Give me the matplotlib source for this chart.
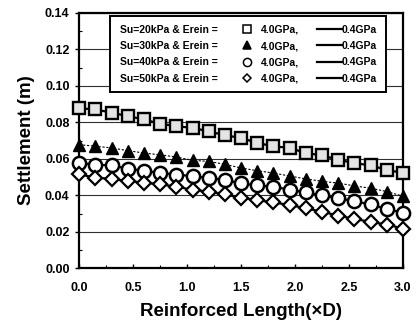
import matplotlib
matplotlib.use("Agg")
import matplotlib.pyplot as plt
from matplotlib.lines import Line2D
from matplotlib.legend_handler import HandlerBase
from matplotlib.ticker import MultipleLocator, FormatStrFormatter

plt.rcParams['font.family'] = ['Liberation Sans', 'DejaVu Sans']

# ---- data ----
length = [0.0, 0.15, 0.3, 0.45, 0.6, 0.75, 0.9, 1.05, 1.2, 1.35, 1.5,
          1.65, 1.8, 1.95, 2.1, 2.25, 2.4, 2.55, 2.7, 2.85, 3.0]

su20_40 = [0.0877, 0.0871, 0.0853, 0.0834, 0.0816, 0.0792, 0.0779, 0.0770, 0.0751, 0.0729, 0.0715,
           0.0687, 0.0669, 0.0660, 0.0632, 0.0619, 0.0595, 0.0577, 0.0564, 0.0540, 0.0522]
su30_40 = [0.0678, 0.0669, 0.0660, 0.0645, 0.0632, 0.0622, 0.0610, 0.0592, 0.0586, 0.0570, 0.0550,
           0.0535, 0.0522, 0.0506, 0.0490, 0.0477, 0.0467, 0.0452, 0.0439, 0.0421, 0.0395]
su40_40 = [0.0577, 0.0568, 0.0564, 0.0546, 0.0535, 0.0523, 0.0514, 0.0505, 0.0495, 0.0485, 0.0465,
           0.0455, 0.0447, 0.0431, 0.0416, 0.0400, 0.0385, 0.0368, 0.0350, 0.0326, 0.0304]
su50_40 = [0.0515, 0.0497, 0.0490, 0.0478, 0.0470, 0.0460, 0.0448, 0.0430, 0.0420, 0.0405, 0.0387,
           0.0374, 0.0361, 0.0347, 0.0329, 0.0310, 0.0289, 0.0271, 0.0254, 0.0240, 0.0218]

# 0.4 GPa curves (coincide with the 4.0 GPa markers in the figure)
su20_04 = [0.0877, 0.0871, 0.0853, 0.0834, 0.0816, 0.0792, 0.0779, 0.0770, 0.0751, 0.0729, 0.0715,
           0.0687, 0.0669, 0.0660, 0.0632, 0.0619, 0.0595, 0.0577, 0.0564, 0.0540, 0.0522]
su30_04 = [0.0678, 0.0669, 0.0660, 0.0645, 0.0632, 0.0622, 0.0610, 0.0592, 0.0586, 0.0570, 0.0550,
           0.0535, 0.0522, 0.0506, 0.0490, 0.0477, 0.0467, 0.0452, 0.0439, 0.0421, 0.0395]
su40_04 = [0.0577, 0.0568, 0.0564, 0.0546, 0.0535, 0.0523, 0.0514, 0.0505, 0.0495, 0.0485, 0.0465,
           0.0455, 0.0447, 0.0431, 0.0416, 0.0400, 0.0385, 0.0368, 0.0350, 0.0326, 0.0304]
su50_04 = [0.0515, 0.0497, 0.0490, 0.0478, 0.0470, 0.0460, 0.0448, 0.0430, 0.0420, 0.0405, 0.0387,
           0.0374, 0.0361, 0.0347, 0.0329, 0.0310, 0.0289, 0.0271, 0.0254, 0.0240, 0.0218]

row_labels = ["Su=20kPa & Erein =", "Su=30kPa & Erein =",
              "Su=40kPa & Erein =", "Su=50kPa & Erein ="]
marker_label = "4.0GPa,"
line_label = "0.4GPa"
x_ticks = [0.0, 0.5, 1.0, 1.5, 2.0, 2.5, 3.0]
y_ticks = [0.00, 0.02, 0.04, 0.06, 0.08, 0.10, 0.12, 0.14]

# ---- figure ----
fig = plt.figure(figsize=(4.17, 3.23), dpi=100)
ax = fig.add_axes([0.190, 0.1693, 0.7764, 0.7907])

styles = [
    dict(marker='s', ms=8.5, mfc='#e4e4e4', mec='black', mew=1.7),
    dict(marker='^', ms=9, mfc='black', mec='black', mew=1.0),
    dict(marker='o', ms=9.5, mfc='white', mec='black', mew=1.8),
    dict(marker='D', ms=6.8, mfc='white', mec='black', mew=1.6),
]
legend_mfc = ['white', 'black', 'white', 'white']
line_styles = [
    dict(color='black', lw=1.6, ls='-'),
    dict(color='black', lw=0.8, ls=(0, (2, 1.5))),
    dict(color='black', lw=1.6, ls='-'),
    dict(color='black', lw=1.6, ls='-'),
]
series40 = [su20_40, su30_40, su40_40, su50_40]
series04 = [su20_04, su30_04, su40_04, su50_04]

marker_handles = []
line_handles = []
for s40, s04, st, lst, lmfc in zip(series40, series04, styles, line_styles, legend_mfc):
    ax.plot(length, s04, zorder=3, **lst)
    ax.plot(length, s40, ls='none', zorder=4, clip_on=False, **st)
    line_handles.append(Line2D([], [], color='black', lw=1.6))
    marker_handles.append(Line2D([], [], ls='none', marker=st['marker'],
                                 ms=st['ms'] * 0.62, mfc=lmfc, mec='black', mew=1.1))

ax.set_xlim(0, 3.0)
ax.set_ylim(0, 0.14)
ax.set_xticks(x_ticks)
ax.set_yticks(y_ticks)
ax.xaxis.set_major_formatter(FormatStrFormatter('%.1f'))
ax.yaxis.set_major_formatter(FormatStrFormatter('%.2f'))
ax.xaxis.set_minor_locator(MultipleLocator(0.25))
ax.yaxis.set_minor_locator(MultipleLocator(0.01))
ax.tick_params(axis='x', which='major', direction='in', length=3, width=1, pad=10,
               labelsize=9)
ax.tick_params(axis='x', which='minor', direction='in', length=2, width=0.8)
ax.tick_params(axis='y', which='major', direction='out', length=3, width=1, pad=4,
               labelsize=9)
ax.tick_params(axis='y', which='minor', direction='in', length=2, width=0.8)
for lbl in ax.get_xticklabels() + ax.get_yticklabels():
    lbl.set_fontweight('bold')

ax.grid(axis='y', which='major', color='#303030', lw=0.8)
ax.set_axisbelow(True)
for sp in ax.spines.values():
    sp.set_linewidth(1.6)
    sp.set_color('black')

ax.set_xlabel("Reinforced Length(×D)", fontsize=13.5, fontweight='bold', labelpad=6)
ax.set_ylabel("Settlement (m)", fontsize=13.5, fontweight='bold', labelpad=7)


# ---- legend with custom handle placement ----
class PlacedHandler(HandlerBase):
    def __init__(self, xs):
        super().__init__()
        self.xs = xs

    def create_artists(self, legend, orig_handle, xdescent, ydescent, width,
                       height, fontsize, trans):
        y = height / 2 - ydescent
        xs = [-xdescent + v * fontsize for v in self.xs]
        art = Line2D(xs, [y] * len(xs))
        self.update_prop(art, orig_handle, legend)
        art.set_transform(trans)
        return [art]


empty_handles = [Line2D([], [], ls='none') for _ in row_labels]
handles = empty_handles + marker_handles + line_handles
labels = row_labels + [marker_label] * 4 + [line_label] * 4
hmap = {}
for h in empty_handles:
    hmap[h] = PlacedHandler([])
for h in marker_handles:
    hmap[h] = PlacedHandler([-1.2])
for h in line_handles:
    hmap[h] = PlacedHandler([-2.35, 0.1])

leg = ax.legend(handles, labels, ncol=3, handler_map=hmap, loc='upper right',
                bbox_to_anchor=(0.948, 0.988), borderaxespad=0,
                handlelength=0, handletextpad=0.1, columnspacing=4.05,
                borderpad=0.85, labelspacing=0.6, fancybox=False, framealpha=1,
                edgecolor='black', prop={'size': 7.5, 'weight': 'bold'})
leg.get_frame().set_linewidth(1.4)

fig.savefig("out.png", dpi=100)
